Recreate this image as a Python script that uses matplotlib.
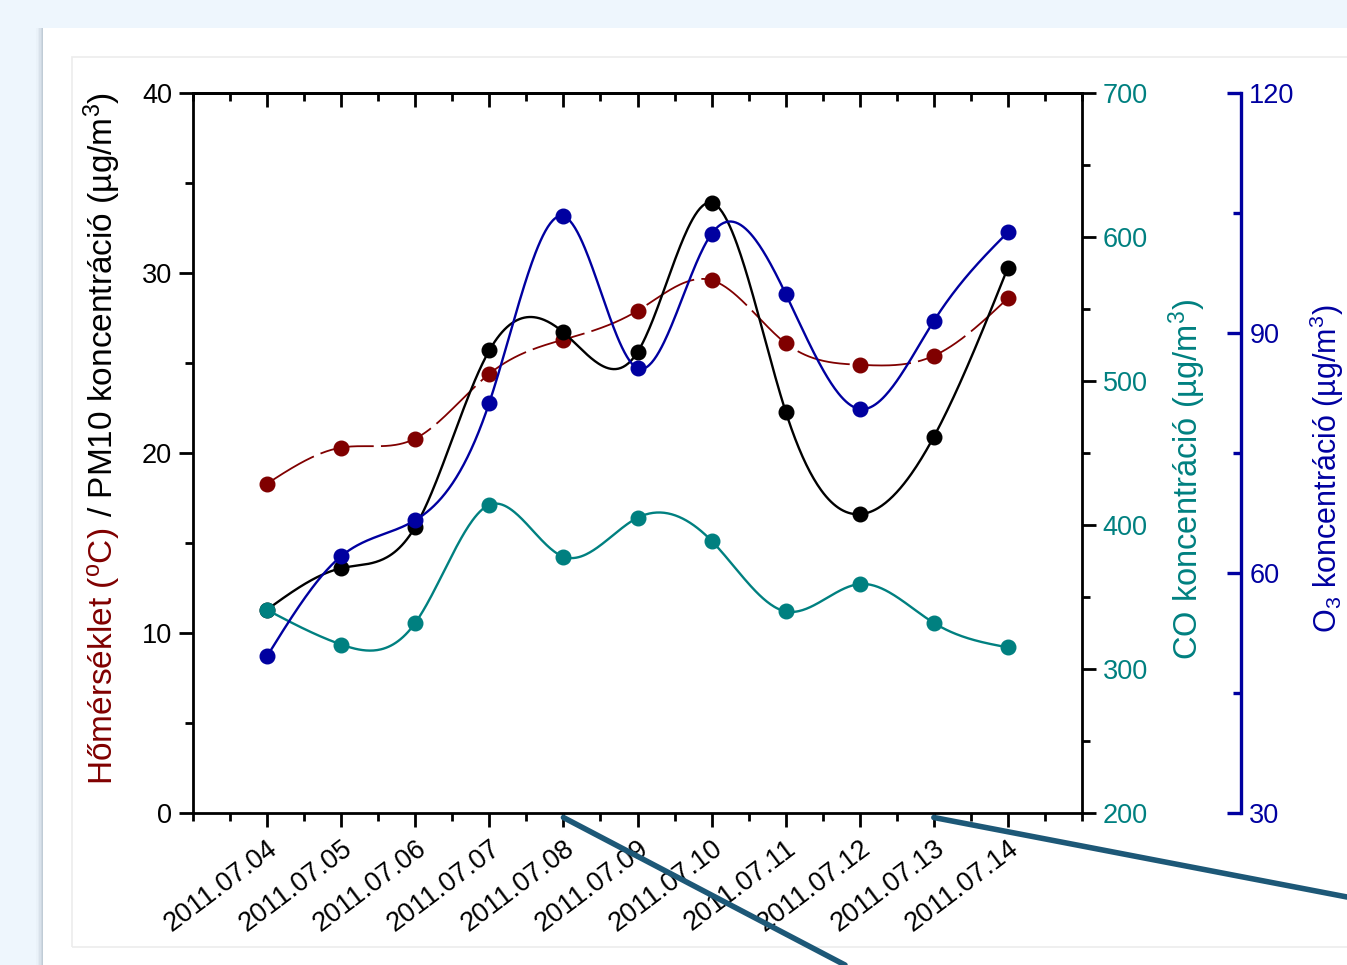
import matplotlib
matplotlib.use("Agg")
import matplotlib.pyplot as plt
from matplotlib.patches import Rectangle
from matplotlib.ticker import MultipleLocator
import numpy as np

plt.rcParams["font.family"] = ["Liberation Sans", "DejaVu Sans"]
plt.rcParams["mathtext.fontset"] = "custom"
plt.rcParams["mathtext.rm"] = "Liberation Sans"
plt.rcParams["mathtext.it"] = "Liberation Sans:italic"
plt.rcParams["mathtext.default"] = "regular"

# ---- data ----
dates = ["2011.07.04", "2011.07.05", "2011.07.06", "2011.07.07", "2011.07.08",
         "2011.07.09", "2011.07.10", "2011.07.11", "2011.07.12", "2011.07.13",
         "2011.07.14"]
temperature = [18.3, 20.3, 20.8, 24.4, 26.3, 27.9, 29.6, 26.1, 24.9, 25.4, 28.6]
pm10 = [11.3, 13.6, 15.9, 25.7, 26.7, 25.6, 33.9, 22.3, 16.6, 20.9, 30.3]
co = [341, 317, 332, 414, 378, 405, 389, 340, 359, 332, 315]
o3 = [49.6, 62.1, 66.6, 81.3, 104.6, 85.6, 102.4, 94.9, 80.5, 91.5, 102.6]

C_TEMP = "#800000"
C_PM = "#000000"
C_CO = "#008080"
C_O3 = "#0000a0"
C_CALLOUT = "#1d5877"

W, H = 1347, 965
TICK_FS = 19.5


def natural_spline(x, y, n=600):
    x = np.asarray(x, float)
    y = np.asarray(y, float)
    h = np.diff(x)
    k = len(x)
    A = np.zeros((k, k))
    b = np.zeros(k)
    A[0, 0] = A[-1, -1] = 1.0
    for i in range(1, k - 1):
        A[i, i - 1] = h[i - 1]
        A[i, i] = 2 * (h[i - 1] + h[i])
        A[i, i + 1] = h[i]
        b[i] = 6 * ((y[i + 1] - y[i]) / h[i] - (y[i] - y[i - 1]) / h[i - 1])
    m = np.linalg.solve(A, b)
    xs = np.linspace(x[0], x[-1], n)
    idx = np.clip(np.searchsorted(x, xs) - 1, 0, k - 2)
    x0, x1 = x[idx], x[idx + 1]
    hh = x1 - x0
    t0, t1 = x1 - xs, xs - x0
    ys = (m[idx] * t0 ** 3 + m[idx + 1] * t1 ** 3) / (6 * hh) \
        + (y[idx] / hh - m[idx] * hh / 6) * t0 \
        + (y[idx + 1] / hh - m[idx + 1] * hh / 6) * t1
    return xs, ys


fig = plt.figure(figsize=(W / 100, H / 100), dpi=100)
fig.patch.set_facecolor("#eef6fd")

# card with a soft left shadow
card_h = (H - 28) / H
for i, a in enumerate([0.04, 0.07, 0.10, 0.14, 0.18]):
    fig.add_artist(Rectangle(((36 + i * 1.5) / W, 0), 1, card_h,
                             transform=fig.transFigure, facecolor="#8a9aa6",
                             alpha=a, edgecolor="none", zorder=0))
fig.add_artist(Rectangle((43 / W, 0), 1, card_h, transform=fig.transFigure,
                         facecolor="white", edgecolor="none", zorder=0))
fig.add_artist(Rectangle((72 / W, (H - 947) / H), 1, (947 - 57) / H,
                         transform=fig.transFigure, facecolor="none",
                         edgecolor="#ececec", lw=1.2, zorder=0))

ax = fig.add_axes([193 / W, (H - 813) / H, (1082 - 193) / W, (813 - 93) / H])
ax.patch.set_alpha(0)
x = np.arange(len(dates))

ax.set_xlim(-1, 11)
ax.set_ylim(0, 40)
ax.set_xticks(x)
ax.set_xticklabels(dates, rotation=37, ha="right", rotation_mode="anchor", fontsize=TICK_FS)
ax.xaxis.set_minor_locator(MultipleLocator(0.5))
ax.yaxis.set_major_locator(MultipleLocator(10))
ax.yaxis.set_minor_locator(MultipleLocator(5))
ax.tick_params(axis="both", which="major", length=10, width=2, direction="out", labelsize=TICK_FS)
ax.tick_params(axis="both", which="minor", length=5.5, width=2, direction="out")
ax.tick_params(axis="x", pad=6)
ax.tick_params(axis="y", pad=5)
ax.spines["right"].set_visible(False)
for s in ["left", "bottom", "top"]:
    ax.spines[s].set_linewidth(2)

top = ax.secondary_xaxis("top")
top.set_xticks(x)
top.set_xticklabels([])
top.xaxis.set_minor_locator(MultipleLocator(0.5))
top.tick_params(which="major", direction="in", length=10, width=2)
top.tick_params(which="minor", direction="in", length=5.5, width=2)
top.spines["top"].set_linewidth(2)

xs, ys = natural_spline(x, temperature)
ax.plot(xs, ys, color=C_TEMP, lw=1.3, dashes=(30, 4), zorder=2)
ax.plot(x, temperature, "o", color=C_TEMP, ms=10.5, zorder=3)
xs, ys = natural_spline(x, pm10)
ax.plot(xs, ys, color=C_PM, lw=1.7, zorder=4)
ax.plot(x, pm10, "o", color=C_PM, ms=10.5, zorder=5)

# CO axis
ax_co = ax.twinx()
ax_co.set_ylim(200, 700)
ax_co.yaxis.set_major_locator(MultipleLocator(100))
ax_co.yaxis.set_minor_locator(MultipleLocator(50))
ax_co.tick_params(which="major", length=10, width=2, direction="out", labelsize=TICK_FS,
                  labelcolor=C_CO, pad=5)
ax_co.tick_params(which="minor", length=5.5, width=2, direction="out")
ax_co.spines["right"].set_linewidth(2)
for s in ["left", "top", "bottom"]:
    ax_co.spines[s].set_visible(False)
xs, ys = natural_spline(x, co)
ax_co.plot(xs, ys, color=C_CO, lw=1.7, zorder=4)
ax_co.plot(x, co, "o", color=C_CO, ms=10.5, zorder=5)

# O3 axis
ax_o3 = ax.twinx()
ax_o3.set_ylim(30, 120)
ax_o3.spines["right"].set_position(("axes", (1241 - 193) / (1082 - 193)))
ax_o3.spines["right"].set_color(C_O3)
ax_o3.spines["right"].set_linewidth(2.4)
for s in ["left", "top", "bottom"]:
    ax_o3.spines[s].set_visible(False)
ax_o3.yaxis.set_major_locator(MultipleLocator(30))
ax_o3.yaxis.set_minor_locator(MultipleLocator(15))
ax_o3.tick_params(which="major", length=10, width=2.4, direction="in", labelsize=TICK_FS,
                  labelcolor=C_O3, color=C_O3, pad=6)
ax_o3.tick_params(which="minor", length=5.5, width=2.4, direction="in", color=C_O3)
xs, ys = natural_spline(x, o3)
ax_o3.plot(xs, ys, color=C_O3, lw=1.7, zorder=6)
ax_o3.plot(x, o3, "o", color=C_O3, ms=10.5, zorder=7)

# axis titles
lab_kw = dict(rotation=90, rotation_mode="anchor", ha="left", va="baseline")
t1 = fig.text(113 / W, 1 - 785 / H, "Hőmérséklet ($^{o}$C)", color=C_TEMP,
              fontsize=24, **lab_kw)
fig.canvas.draw()
bb = t1.get_window_extent()
fig.text(113 / W, (bb.y1 + 2) / H, " / PM10 koncentráció (µg/m$^{3}$)", color=C_PM,
         fontsize=24, **lab_kw)
fig.text(1198 / W, 1 - 660 / H, "CO koncentráció (µg/m$^{3}$)", color=C_CO,
         fontsize=23.5, **lab_kw)
fig.text(1337 / W, 1 - 633 / H, "O$_{3}$ koncentráció (µg/m$^{3}$)", color=C_O3,
         fontsize=22, **lab_kw)

# callout lines
for xi, end in [(4, (845 / W, 0.0)), (9, (1.0, 1 - 897 / H))]:
    ax.annotate("", xy=(xi, -0.25), xytext=end, textcoords="figure fraction",
                arrowprops=dict(arrowstyle="-", lw=4, color=C_CALLOUT,
                                shrinkA=0, shrinkB=0),
                annotation_clip=False, zorder=10)

fig.savefig("out.png", dpi=100, facecolor=fig.get_facecolor())
